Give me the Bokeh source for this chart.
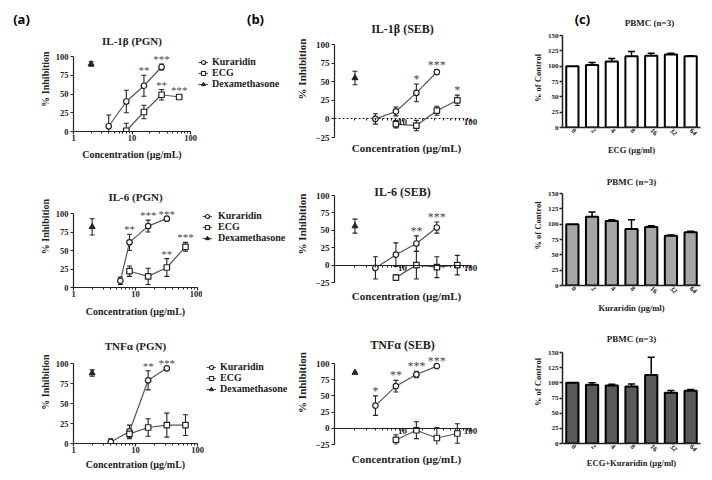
from bokeh.plotting import figure
from bokeh.models import (Range1d, FactorRange, FixedTicker, NumeralTickFormatter, Legend,
                          LegendItem, Whisker, TeeHead, ColumnDataSource, LogAxis)
from bokeh.layouts import row, column
from bokeh.core.properties import value
from bokeh.embed import file_html
from bokeh.resources import INLINE

SERIF = "Liberation Serif"
SANS = "Open Sans"
INK = "#222222"
LINE = "#555555"
STAR = "#4a4a4a"

# ---------------- data ----------------
KUR_CONC = [4, 8, 16, 32]
IL6_PGN_KUR_CONC = [5.7, 8, 16, 32]
ECG_CONC = [8, 16, 32, 64]
DEX_CONC = [2]
LOG_TICKS_A = [1, 10, 100]
LOG_TICKS_B = [10, 100]
LOG_MINOR = [2, 3, 4, 5, 6, 7, 8, 9, 20, 30, 40, 50, 60, 70, 80, 90]
Y_TICKS_A = [0, 25, 50, 75, 100]
Y_TICKS_B = [-25, 0, 25, 50, 75, 100]

# (a) IL-1b (PGN)
IL1B_PGN_KUR = [7, 40, 61, 86]
IL1B_PGN_KUR_ERR = [15, 15, 14, 4]
IL1B_PGN_ECG = [1, 26, 49, 46]
IL1B_PGN_ECG_ERR = [10, 9, 7, 3]
IL1B_PGN_DEX = [90]
IL1B_PGN_DEX_ERR = [3]
IL1B_PGN_KUR_SIG = ["", "", "**", "***"]
IL1B_PGN_ECG_SIG = ["", "", "**", "***"]

# (a) IL-6 (PGN)
IL6_PGN_KUR = [9, 61, 83, 93]
IL6_PGN_KUR_ERR = [5, 11, 8, 0]
IL6_PGN_ECG = [22, 15, 27, 55]
IL6_PGN_ECG_ERR = [7, 11, 12, 6]
IL6_PGN_DEX = [82]
IL6_PGN_DEX_ERR = [11]
IL6_PGN_KUR_SIG = ["", "**", "***", "***"]
IL6_PGN_ECG_SIG = ["", "", "**", "***"]

# (a) TNFa (PGN)
TNF_PGN_KUR = [2, 15, 79, 94]
TNF_PGN_KUR_ERR = [4, 8, 12, 0]
TNF_PGN_ECG = [12, 20, 23, 23]
TNF_PGN_ECG_ERR = [6, 11, 15, 13]
TNF_PGN_DEX = [88]
TNF_PGN_DEX_ERR = [4]
TNF_PGN_KUR_SIG = ["", "", "**", "***"]
TNF_PGN_ECG_SIG = ["", "", "", ""]

# (b) IL-1b (SEB)
IL1B_SEB_KUR = [0, 10, 35, 63]
IL1B_SEB_KUR_ERR = [7, 6, 12, 3]
IL1B_SEB_ECG = [-7, -9, 11, 25]
IL1B_SEB_ECG_ERR = [5, 7, 6, 7]
IL1B_SEB_DEX = [55]
IL1B_SEB_DEX_ERR = [9]
IL1B_SEB_KUR_SIG = ["", "", "*", "***"]
IL1B_SEB_ECG_SIG = ["", "", "", "*"]

# (b) IL-6 (SEB)
IL6_SEB_KUR = [-4, 15, 31, 54]
IL6_SEB_KUR_ERR = [16, 17, 11, 8]
IL6_SEB_ECG = [-18, 0, -3, 0]
IL6_SEB_ECG_ERR = [4, 20, 15, 14]
IL6_SEB_DEX = [56]
IL6_SEB_DEX_ERR = [10]
IL6_SEB_KUR_SIG = ["", "", "**", "***"]
IL6_SEB_ECG_SIG = ["", "", "", ""]

# (b) TNFa (SEB)
TNF_SEB_KUR = [35, 65, 83, 96]
TNF_SEB_KUR_ERR = [15, 9, 5, 0]
TNF_SEB_ECG = [-18, -3, -15, -8]
TNF_SEB_ECG_ERR = [8, 13, 16, 15]
TNF_SEB_DEX = [86]
TNF_SEB_DEX_ERR = [0]
TNF_SEB_KUR_SIG = ["*", "**", "***", "***"]
TNF_SEB_ECG_SIG = ["", "", "", ""]

# (c) PBMC viability
CATS = ["0", "2", "4", "8", "16", "32", "64"]
Y_TICKS_C = [0, 25, 50, 75, 100, 125, 150]
PBMC_ECG = [100, 102, 107.5, 116, 117, 119, 116]
PBMC_ECG_ERR = [0, 4, 5, 8, 4, 2, 1]
PBMC_KUR = [100, 112, 105, 92, 95.5, 81, 87]
PBMC_KUR_ERR = [0, 8, 2, 15, 2, 1.5, 1.5]
PBMC_MIX = [100, 97, 95.5, 94, 113, 83.5, 87]
PBMC_MIX_ERR = [0, 3, 2, 4, 29, 4, 2]

LEGEND_LABELS = ["Kuraridin", "ECG", "Dexamethasone"]
LEG_H = 33  # approximate rendered legend height in px


def bare(p):
    p.outline_line_color = None
    for g in p.grid:
        g.visible = False


def style_axis(ax, tick_size, label_size, width=1.2):
    ax.axis_label_text_font = SERIF
    ax.axis_label_text_font_style = "bold"
    ax.axis_label_text_font_size = label_size
    ax.major_label_text_font = SERIF
    ax.major_label_text_font_style = "bold"
    ax.major_label_text_font_size = tick_size
    ax.major_label_text_color = INK
    ax.axis_label_text_color = INK
    ax.axis_line_color = INK
    ax.axis_line_width = width
    ax.major_tick_line_color = INK
    ax.major_tick_line_width = width
    ax.major_tick_out = 3
    ax.major_tick_in = 0
    ax.minor_tick_line_color = INK
    ax.minor_tick_out = 2
    ax.minor_tick_in = 0


def title_text(p, x, y, txt, size):
    p.text(x=[x], y=[y], text=[txt], text_align="center", text_baseline="middle",
           text_font=value(SERIF), text_font_style="bold", text_font_size=size,
           text_color=INK)


def err_whisker(p, xs, vals, errs):
    pts = [(x, v, e) for x, v, e in zip(xs, vals, errs) if e > 0]
    src = ColumnDataSource(dict(x=[t[0] for t in pts],
                                lo=[t[1] - t[2] for t in pts],
                                hi=[t[1] + t[2] for t in pts]))
    w = Whisker(source=src, base="x", lower="lo", upper="hi", line_color=INK, line_width=1.1,
                upper_head=TeeHead(size=5, line_color=INK, line_width=1.1),
                lower_head=TeeHead(size=5, line_color=INK, line_width=1.1))
    p.add_layout(w)


def stars(p, xs, vals, errs, sigs, size):
    pts = [(x, v + e, s) for x, v, e, s in zip(xs, vals, errs, sigs) if s]
    if not pts:
        return
    p.text(x=[t[0] for t in pts], y=[t[1] for t in pts], text=[t[2] for t in pts],
           text_align="center", text_baseline="alphabetic", text_color=STAR,
           text_font=value(SERIF), text_font_size=size, y_offset=-5)


def series_glyphs(p, kx, ky, ex, ey, dx, dy):
    kl = p.line(kx, ky, line_color=LINE, line_width=1.2)
    el = p.line(ex, ey, line_color=LINE, line_width=1.2)
    dl = p.line(dx, dy, line_color=LINE, line_width=1.2)
    kc = p.scatter(kx, ky, marker="circle", size=5.5, fill_color="white",
                   line_color=INK, line_width=1.2)
    ec = p.scatter(ex, ey, marker="square", size=5.5, fill_color="white",
                   line_color=INK, line_width=1.2)
    dc = p.scatter(dx, dy, marker="triangle", size=6, fill_color=INK,
                   line_color=INK, line_width=1)
    return [[kl, kc], [el, ec], [dl, dc]]


def dose_panel(title, kconc, kur, kur_e, ecg, ecg_e, dex, dex_e, kur_s, ecg_s, lay):
    fx0, fy0, fx1, fy1 = lay["box"]
    x0, x100, x1 = lay["fx"]
    ylo = lay["ylo"]
    y100, ybot = lay["y100"], lay["ybot"]
    scale = (ybot - y100) / (100.0 - ylo)          # px per unit
    ytop = ylo + (ybot - fy0) / scale               # frame reaches the canvas top
    xend = 10 ** (2 + (x1 - x100) * 2.0 / (x100 - x0))
    p = figure(width=fx1 - fx0, height=fy1 - fy0, x_axis_type="log",
               x_range=Range1d(1, xend), y_range=Range1d(ylo, ytop),
               min_border_left=x0 - fx0, min_border_right=fx1 - x1,
               min_border_top=0, min_border_bottom=int(round(fy1 - ybot)),
               output_backend="svg", toolbar_location=None)
    bare(p)
    big = lay["cross"]
    tick_size = "9px" if big else "8.5px"
    label_size = "11px" if big else "10px"
    title_size = "12px" if big else "11px"
    title_text(p, 10, ylo + (ybot - lay["ty"]) / scale, title, title_size)

    yax = p.yaxis[0]
    style_axis(yax, tick_size, label_size)
    yax.ticker = FixedTicker(ticks=Y_TICKS_B if big else Y_TICKS_A)
    yax.bounds = (ylo, 100)
    yax.axis_label = "% Inhibition"
    yax.major_label_standoff = 2
    yax.axis_label_standoff = lay["ylstand"]

    xax = p.xaxis[0]
    style_axis(xax, tick_size, label_size)
    xax.formatter = NumeralTickFormatter(format="0")
    xax.major_label_standoff = 0
    xax.bounds = (1, 100)
    if big:
        xax.ticker = FixedTicker(ticks=LOG_TICKS_B, minor_ticks=LOG_MINOR)
        xax.fixed_location = 0
        xax.major_label_standoff = -3
        if lay.get("dash"):
            xax.axis_line_dash = lay["dash"]
        lab = LogAxis(ticker=FixedTicker(ticks=[]), axis_label="Concentration (µg/mL)",
                      axis_line_color=None, major_tick_out=0, minor_tick_out=0,
                      major_tick_in=0, minor_tick_in=0, major_label_standoff=0,
                      axis_label_standoff=lay["xlstand"],
                      axis_label_text_font=SERIF, axis_label_text_font_style="bold",
                      axis_label_text_font_size=label_size, axis_label_text_color=INK)
        p.add_layout(lab, "below")
    else:
        xax.ticker = FixedTicker(ticks=LOG_TICKS_A, minor_ticks=LOG_MINOR)
        xax.axis_label = "Concentration (µg/mL)"
        xax.axis_label_standoff = lay["xlstand"]

    err_whisker(p, kconc, kur, kur_e)
    err_whisker(p, ECG_CONC, ecg, ecg_e)
    err_whisker(p, DEX_CONC, dex, dex_e)
    series_glyphs(p, kconc, kur, ECG_CONC, ecg, DEX_CONC, dex)

    star_size = "12px" if big else "11px"
    stars(p, kconc, kur, kur_e, kur_s, star_size)
    stars(p, ECG_CONC, ecg, ecg_e, ecg_s, star_size)
    return p


def legend_fig(box, ybot, glyph_left, legend_top, standoff):
    fx0, fy0, fx1, fy1 = box
    p = figure(width=fx1 - fx0, height=fy1 - fy0, x_range=Range1d(0, 1), y_range=Range1d(0, 1),
               min_border_left=glyph_left - fx0, min_border_top=0,
               min_border_right=0, min_border_bottom=fy1 - ybot,
               x_axis_location=None, y_axis_location=None,
               output_backend="svg", toolbar_location=None)
    bare(p)
    rends = series_glyphs(p, [-5, -4], [-5, -5], [-5, -4], [-5, -5], [-5], [-5])
    leg = Legend(items=[LegendItem(label=lab, renderers=r) for lab, r in zip(LEGEND_LABELS, rends)],
                 location=(0, ybot - (legend_top + LEG_H)), orientation="vertical",
                 margin=0, padding=0, spacing=-3, glyph_width=10, glyph_height=10,
                 label_height=10, label_standoff=standoff, label_text_font=SERIF,
                 label_text_font_style="bold", label_text_font_size="10px",
                 label_text_color=INK, border_line_color=None, background_fill_alpha=0)
    p.add_layout(leg)
    return p


def strip_fig(box, texts):
    fx0, fy0, fx1, fy1 = box
    w, h = fx1 - fx0, fy1 - fy0
    p = figure(width=w, height=h, x_range=Range1d(0, w), y_range=Range1d(h, 0),
               min_border_left=0, min_border_right=0, min_border_top=0, min_border_bottom=0,
               x_axis_location=None, y_axis_location=None,
               output_backend="svg", toolbar_location=None)
    bare(p)
    for txt, x, y, font, size in texts:
        p.text(x=[x - fx0], y=[y - fy0], text=[txt], text_align="center", text_baseline="middle",
               text_font=value(font), text_font_style="bold", text_font_size=size,
               text_color="black" if font == SANS else INK)
    return p


def bar_panel(vals, errs, fill, xlabel, lay):
    fx0, fy0, fx1, fy1 = lay["box"]
    x0, x1 = lay["fx"]
    y150, y0 = lay["y150"], lay["y0"]
    scale = (y0 - y150) / 150.0
    ytop = (y0 - fy0) / scale
    p = figure(width=fx1 - fx0, height=fy1 - fy0, x_range=FactorRange(factors=CATS),
               y_range=Range1d(0, ytop),
               min_border_left=x0 - fx0, min_border_right=fx1 - x1,
               min_border_top=0, min_border_bottom=fy1 - y0,
               output_backend="svg", toolbar_location=None)
    bare(p)
    if lay.get("ty") is not None:
        title_text(p, CATS[3], (y0 - lay["ty"]) / scale, "PBMC (n=3)", "9px")

    p.vbar(x=CATS, top=vals, width=0.62, fill_color=fill, line_color="black", line_width=2)
    pts = [(c, v, e) for c, v, e in zip(CATS, vals, errs) if e > 0]
    xs = [t[0] for t in pts]
    lo = [t[1] for t in pts]
    hi = [t[1] + t[2] for t in pts]
    p.segment(x0=xs, y0=lo, x1=xs, y1=hi, line_color="black", line_width=1.5)
    p.scatter(x=xs, y=hi, marker="dash", size=7, line_color="black", line_width=1.5)

    yax = p.yaxis[0]
    style_axis(yax, "7px", "8.5px", width=1.5)
    yax.ticker = FixedTicker(ticks=Y_TICKS_C)
    yax.bounds = (0, 150)
    yax.axis_label = "% of Control"
    yax.major_label_standoff = 1
    yax.axis_label_standoff = 2

    xax = p.xaxis[0]
    style_axis(xax, "7px", "8.5px", width=1.5)
    xax.major_tick_out = 0
    xax.major_label_orientation = -0.8
    xax.major_label_standoff = 2
    xax.axis_label = xlabel
    xax.axis_label_standoff = lay["xlstand"]
    return p


# ---------------- layout (page pixel positions, page origin at 0,0) ----------------
LAY_A1 = dict(box=(0, 26, 198, 165), fx=(73, 190, 190), y100=56, ybot=131, ylo=0, cross=False,
              ty=40, ylstand=2, xlstand=5)
LAY_A2 = dict(box=(0, 165, 202, 320), fx=(73, 197, 197), y100=213, ybot=287, ylo=0, cross=False,
              ty=196, ylstand=2, xlstand=6)
LAY_A3 = dict(box=(0, 320, 206, 480), fx=(73, 197, 197), y100=363, ybot=443, ylo=0, cross=False,
              ty=345, ylstand=2, xlstand=3)
LAY_B1 = dict(box=(290, 0, 490, 165), fx=(334, 470, 478), y100=44, ybot=137, ylo=-25, cross=True,
              ty=28, ylstand=4, xlstand=4, dash="2 2")
LAY_B2 = dict(box=(290, 165, 490, 320), fx=(334, 470, 478), y100=195, ybot=282, ylo=-25, cross=True,
              ty=191, ylstand=4, xlstand=7)
LAY_B3 = dict(box=(290, 320, 490, 480), fx=(334, 470, 478), y100=363, ybot=444, ylo=-25, cross=True,
              ty=344, ylstand=4, xlstand=8)
LAY_C1 = dict(box=(490, 28, 712, 165), fx=(562, 700), y150=35, y0=127, ty=None, xlstand=5)
LAY_C2 = dict(box=(490, 165, 712, 320), fx=(562, 700), y150=193, y0=285, ty=181, xlstand=5)
LAY_C3 = dict(box=(490, 320, 712, 480), fx=(562, 700), y150=352, y0=443, ty=338, xlstand=2)

strip_a = strip_fig((0, 0, 290, 26), [("(a)", 21, 18, SANS, "13px"), ("(b)", 255, 18, SANS, "13px")])
strip_c = strip_fig((490, 0, 712, 28), [("(c)", 522, 18, SANS, "13px"),
                                        ("PBMC (n=3)", 630, 22, SERIF, "9px")])

a1 = dose_panel("IL-1β (PGN)", KUR_CONC, IL1B_PGN_KUR, IL1B_PGN_KUR_ERR, IL1B_PGN_ECG,
                IL1B_PGN_ECG_ERR, IL1B_PGN_DEX, IL1B_PGN_DEX_ERR, IL1B_PGN_KUR_SIG,
                IL1B_PGN_ECG_SIG, LAY_A1)
a2 = dose_panel("IL-6 (PGN)", IL6_PGN_KUR_CONC, IL6_PGN_KUR, IL6_PGN_KUR_ERR, IL6_PGN_ECG,
                IL6_PGN_ECG_ERR, IL6_PGN_DEX, IL6_PGN_DEX_ERR, IL6_PGN_KUR_SIG,
                IL6_PGN_ECG_SIG, LAY_A2)
a3 = dose_panel("TNFα (PGN)", KUR_CONC, TNF_PGN_KUR, TNF_PGN_KUR_ERR, TNF_PGN_ECG,
                TNF_PGN_ECG_ERR, TNF_PGN_DEX, TNF_PGN_DEX_ERR, TNF_PGN_KUR_SIG,
                TNF_PGN_ECG_SIG, LAY_A3)
leg1 = legend_fig((198, 26, 290, 165), 131, 198, 56, 4)
leg2 = legend_fig((202, 165, 290, 320), 287, 202, 210, 6)
leg3 = legend_fig((206, 320, 290, 480), 443, 206, 361, 4)

b1 = dose_panel("IL-1β (SEB)", KUR_CONC, IL1B_SEB_KUR, IL1B_SEB_KUR_ERR, IL1B_SEB_ECG,
                IL1B_SEB_ECG_ERR, IL1B_SEB_DEX, IL1B_SEB_DEX_ERR, IL1B_SEB_KUR_SIG,
                IL1B_SEB_ECG_SIG, LAY_B1)
b2 = dose_panel("IL-6 (SEB)", KUR_CONC, IL6_SEB_KUR, IL6_SEB_KUR_ERR, IL6_SEB_ECG,
                IL6_SEB_ECG_ERR, IL6_SEB_DEX, IL6_SEB_DEX_ERR, IL6_SEB_KUR_SIG,
                IL6_SEB_ECG_SIG, LAY_B2)
b3 = dose_panel("TNFα (SEB)", KUR_CONC, TNF_SEB_KUR, TNF_SEB_KUR_ERR, TNF_SEB_ECG,
                TNF_SEB_ECG_ERR, TNF_SEB_DEX, TNF_SEB_DEX_ERR, TNF_SEB_KUR_SIG,
                TNF_SEB_ECG_SIG, LAY_B3)

c1 = bar_panel(PBMC_ECG, PBMC_ECG_ERR, "white", "ECG (µg/ml)", LAY_C1)
c2 = bar_panel(PBMC_KUR, PBMC_KUR_ERR, "#a6a6a6", "Kuraridin (µg/ml)", LAY_C2)
c3 = bar_panel(PBMC_MIX, PBMC_MIX_ERR, "#5a5a5a", "ECG+Kuraridin (µg/ml)", LAY_C3)

col_a = column(strip_a, row(a1, leg1), row(a2, leg2), row(a3, leg3))
col_b = column(b1, b2, b3)
col_c = column(strip_c, c1, c2, c3)
layout = row(col_a, col_b, col_c)
open("out.html", "w").write(file_html(layout, INLINE))
